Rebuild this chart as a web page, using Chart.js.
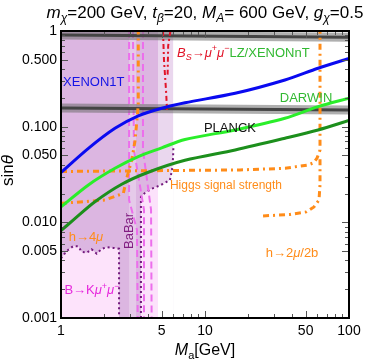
<!DOCTYPE html>
<html>
<head>
<meta charset="utf-8">
<script src="https://cdn.jsdelivr.net/npm/chart.js@4.4.0/dist/chart.umd.min.js"></script>
<style>
  html, body { margin: 0; padding: 0; background: #fff; }
  #wrap { width: 374px; height: 360px; }
</style>
</head>
<body>
<div id="wrap"><canvas id="chart" width="374" height="360"></canvas></div>
<script>
// axes
const maTicks = [1, 5, 10, 50, 100];
const sinTicks = [0.001, 0.005, 0.01, 0.05, 0.1, 0.5, 1];
const sinTickLabels = ["0.001", "0.005", "0.010", "0.050", "0.100", "0.500", "1"];

// direct detection curves
const xenon1tMa = [1, 1.55, 2.37, 3.44, 5.0, 7.26, 16.2, 35.9, 61, 100];
const xenon1tSin = [0.0332, 0.0594, 0.0962, 0.130, 0.156, 0.178, 0.2234, 0.3077, 0.408, 0.516];
const lzMa = [1, 1.55, 2.37, 3.44, 5.0, 7.26, 16.2, 35.9, 61, 100];
const lzSin = [0.0145, 0.0246, 0.0367, 0.0486, 0.060, 0.0735, 0.0924, 0.1225, 0.162, 0.199];
const darwinMa = [1, 1.22, 1.72, 2.64, 4.04, 7.26, 16.2, 35.9, 61, 100];
const darwinSin = [0.0082, 0.0106, 0.0164, 0.025, 0.0334, 0.0445, 0.0571, 0.0757, 0.0924, 0.116];

// relic density (two branches)
const planckMa = [1, 100];
const planckHigh = [0.91, 0.86];
const planckLow = [0.157, 0.149];

// higgs constraints
const higgsMa = [1, 17.5, 36, 52, 57, 60, 62.9, 62.9];
const higgsSin = [0.034, 0.0353, 0.0367, 0.0398, 0.042, 0.047, 0.057, 1];
const h2mu2bMa = [25.3, 38.9, 50.4, 57.1, 61.9, 62.9, 62.9];
const h2mu2bSin = [0.01166, 0.0121, 0.01285, 0.0145, 0.0171, 0.0246, 0.05];
const h4muMa = [1, 2.02, 2.71, 2.86, 3.1, 3.26, 3.36, 3.44, 3.44];
const h4muSin = [0.0158, 0.0171, 0.0201, 0.0289, 0.0449, 0.0697, 0.113, 0.169, 1];

// Bs -> mu mu
const bsMaA = [5.11, 5.19, 5.36, 5.45];
const bsSinA = [1, 0.498, 0.2416, 0.1494];
const bsMaB = [5.75, 5.55, 5.5];
const bsSinB = [1, 0.7, 0.35];

// BaBar dashed contours
const babarMaA = [2.97, 2.97, 3.37, 3.41];
const babarSinA = [1, 0.0171, 0.00833, 0.001];
const babarMaB = [3.16, 3.21, 3.77, 3.77];
const babarSinB = [1, 0.0571, 0.0135, 0.001];
const babarMaC = [3.71, 3.71, 4.22, 4.26];
const babarSinC = [1, 0.0571, 0.0135, 0.001];

// B -> K mu mu boundary
const bkMa = [1, 1.04, 1.12, 1.22, 1.32, 1.39, 1.51, 1.63, 1.77, 1.92, 2.08, 2.31, 2.53, 2.53];
const bkSin = [0.0042, 0.00456, 0.00515, 0.00566, 0.0056, 0.00494, 0.0048, 0.00523, 0.0047, 0.00529, 0.0055, 0.0054, 0.0053, 0.001];

// excluded region boundary (dotted) and edges of shaded bands
const edgeMa = [3.59, 3.59, 3.83, 4.22, 4.64, 5.11, 5.71, 5.9, 6.0, 6.03];
const edgeSin = [0.001, 0.0184, 0.0203, 0.0223, 0.0236, 0.0252, 0.0277, 0.0353, 0.0471, 0.0614];
const purpleMa = [1, 4.72];
const lavenderMa = [1, 6.03];
const stripMa = [2.97, 3.32];
const pinkMa = [3.59, 3.59, 3.83, 4.22, 4.64, 4.72, 4.72];
const pinkSin = [0.001, 0.0184, 0.0203, 0.0223, 0.0236, 0.0238, 0.001];

const FONT = '"Liberation Sans", Arial, sans-serif';
const ORANGE = "rgb(255,140,25)";

function pts(xs, ys) {
  return xs.map((x, i) => ({ x: x, y: ys[i] }));
}

function line(label, xs, ys, color, width, dash, order, tension) {
  return {
    label: label, data: pts(xs, ys), showLine: true,
    borderColor: color, borderWidth: width, borderDash: dash || [],
    pointRadius: 0, pointHoverRadius: 0, fill: false,
    tension: tension || 0, order: order
  };
}

function area(label, xs, ys, color, order) {
  return {
    label: label, data: pts(xs, ys), showLine: true,
    borderWidth: 0, borderColor: "rgba(0,0,0,0)", backgroundColor: color,
    pointRadius: 0, pointHoverRadius: 0, fill: "start", order: order
  };
}

const datasets = [
  area("lavender", lavenderMa, [1, 1], "#ead7ee", 100),
  area("purple", purpleMa, [1, 1], "#dcb6e1", 99),
  area("strip", stripMa, [1, 1], "rgba(255,255,255,0.28)", 98),
  area("cover", edgeMa, edgeSin, "#ffffff", 97),
  area("pink", pinkMa, pinkSin, "#fce2fb", 96),
  Object.assign(area("BK", bkMa, bkSin, "#fde3fb", 95),
    { borderWidth: 2, borderColor: "rgb(115,25,125)", borderDash: [2, 3] }),
  line("edge", edgeMa, edgeSin, "rgb(115,25,125)", 2, [2, 3], 20),
  line("babarA", babarMaA, babarSinA, "rgb(236,110,236)", 2, [7, 4], 19),
  line("babarB", babarMaB, babarSinB, "rgb(236,110,236)", 2, [7, 4], 18),
  line("babarC", babarMaC, babarSinC, "rgb(236,110,236)", 2, [7, 4], 17),
  line("planckHaloHigh", planckMa, planckHigh, "rgba(110,110,110,0.55)", 9, [], 16),
  line("planckHaloLow", planckMa, planckLow, "rgba(110,110,110,0.55)", 9, [], 15),
  line("planckHigh", planckMa, planckHigh, "#444", 3, [], 14),
  line("planckLow", planckMa, planckLow, "#444", 3, [], 13),
  line("higgs", higgsMa, higgsSin, ORANGE, 3, [6, 4, 2, 4], 10),
  line("h2mu2b", h2mu2bMa, h2mu2bSin, ORANGE, 3, [6, 4, 2, 4], 9),
  line("h4mu", h4muMa, h4muSin, ORANGE, 3, [6, 4, 2, 4], 8),
  line("bsA", bsMaA, bsSinA, "rgb(225,20,40)", 2, [5, 3, 2, 3], 7),
  line("bsB", bsMaB, bsSinB, "rgb(225,20,40)", 2, [5, 3, 2, 3], 6),
  line("DARWIN", darwinMa, darwinSin, "#1c8f1c", 3, [], 3, 0.3),
  line("LZ", lzMa, lzSin, "#2aee2a", 3, [], 2, 0.3),
  line("XENON1T", xenon1tMa, xenon1tSin, "#0a0af0", 3, [], 1, 0.3)
];

// text placed in data coordinates
const notes = [
  { x: 1.69, y: 0.30, align: "center", color: "#1414e6", parts: [{ t: "XENON1T" }] },
  { x: 6.39, y: 0.60, align: "left", color: "rgb(225,20,40)", parts: [
    { t: "B", i: 1 }, { t: "S", i: 1, sub: 1 }, { t: "\u2192" }, { t: "\u03bc", i: 1 }, { t: "+", sup: 1 },
    { t: "\u03bc", i: 1 }, { t: "\u2212", sup: 1 }, { t: "LZ/XENONnT", c: "rgb(50,185,50)" }] },
  { x: 50.3, y: 0.20, align: "center", color: "rgb(50,185,50)", parts: [{ t: "DARWIN" }] },
  { x: 14.9, y: 0.0993, align: "center", color: "#111", parts: [{ t: "PLANCK" }] },
  { x: 5.71, y: 0.0246, align: "left", size: 12, color: ORANGE, parts: [{ t: "Higgs signal strength" }] },
  { x: 1.49, y: 0.0071, align: "center", color: ORANGE, parts: [{ t: "h\u21924" }, { t: "\u03bc", i: 1 }] },
  { x: 40.2, y: 0.0049, align: "center", color: ORANGE, parts: [{ t: "h\u21922" }, { t: "\u03bc", i: 1 }, { t: "/2b" }] },
  { x: 1.64, y: 0.00197, align: "center", color: "rgb(230,40,220)", parts: [
    { t: "B\u2192K" }, { t: "\u03bc", i: 1 }, { t: "+", sup: 1 }, { t: "\u03bc", i: 1 }, { t: "\u2212", sup: 1 }] },
  { x: 2.94, y: 0.00813, align: "center", rotate: true, color: "rgb(130,30,130)", parts: [{ t: "BaBar" }] }
];

function drawParts(ctx, parts, x, y, size, align, color) {
  const fontFor = p => (p.i ? "italic " : "") + ((p.sub || p.sup) ? Math.round(size * 0.7) : size) + "px " + FONT;
  let w = 0;
  const widths = parts.map(p => { ctx.font = fontFor(p); const pw = ctx.measureText(p.t).width; w += pw; return pw; });
  let cx = align === "center" ? x - w / 2 : x;
  ctx.textAlign = "left";
  ctx.textBaseline = "alphabetic";
  parts.forEach((p, k) => {
    ctx.font = fontFor(p);
    ctx.fillStyle = p.c || color;
    const dy = p.sub ? size * 0.25 : (p.sup ? -size * 0.42 : 0);
    ctx.fillText(p.t, cx, y + dy);
    cx += widths[k];
  });
}

const textPlugin = {
  id: "texts",
  afterDatasetsDraw(chart) {
    const ctx = chart.ctx;
    const xs = chart.scales.x, ys = chart.scales.y;
    ctx.save();
    notes.forEach(n => {
      const px = xs.getPixelForValue(n.x), py = ys.getPixelForValue(n.y);
      const size = n.size || 13;
      if (n.rotate) {
        ctx.save();
        ctx.translate(px, py);
        ctx.rotate(-Math.PI / 2);
        drawParts(ctx, n.parts, 0, size * 0.35, size, "center", n.color);
        ctx.restore();
      } else {
        drawParts(ctx, n.parts, px, py + size * 0.35, size, n.align, n.color);
      }
    });
    ctx.restore();
  },
  afterDraw(chart) {
    const ctx = chart.ctx;
    const a = chart.chartArea;
    const xs = chart.scales.x, ys = chart.scales.y;
    ctx.save();
    // inward frame ticks on all sides
    ctx.strokeStyle = "#555";
    ctx.lineWidth = 1;
    for (let d = 1; d < 100; d *= 10) {
      for (let k = 1; k <= 10; k++) {
        const v = k * d;
        if (v > 100) continue;
        const len = maTicks.includes(v) ? 7 : 4;
        const p = Math.round(xs.getPixelForValue(v)) + 0.5;
        ctx.beginPath();
        ctx.moveTo(p, a.bottom); ctx.lineTo(p, a.bottom - len);
        ctx.moveTo(p, a.top); ctx.lineTo(p, a.top + len);
        ctx.stroke();
      }
    }
    for (let d = 0.001; d < 1; d *= 10) {
      for (let k = 1; k <= 10; k++) {
        const v = k * d;
        const len = sinTicks.some(t => Math.abs(t - v) < 1e-9) ? 7 : 4;
        const p = Math.round(ys.getPixelForValue(v)) + 0.5;
        ctx.beginPath();
        ctx.moveTo(a.left, p); ctx.lineTo(a.left + len, p);
        ctx.moveTo(a.right, p); ctx.lineTo(a.right - len, p);
        ctx.stroke();
      }
    }
    ctx.strokeStyle = "#000";
    ctx.lineWidth = 2;
    ctx.strokeRect(a.left, a.top, a.right - a.left, a.bottom - a.top);

    // title and axis titles
    drawParts(ctx, [
      { t: "m", i: 1 }, { t: "\u03c7", i: 1, sub: 1 }, { t: "=200 GeV, " },
      { t: "t", i: 1 }, { t: "\u03b2", i: 1, sub: 1 }, { t: "=20, " },
      { t: "M", i: 1 }, { t: "A", i: 1, sub: 1 }, { t: "= 600 GeV, " },
      { t: "g", i: 1 }, { t: "\u03c7", i: 1, sub: 1 }, { t: "=0.5" }
    ], (a.left + a.right) / 2, 18, 17, "center", "#000");
    drawParts(ctx, [{ t: "M", i: 1 }, { t: "a", sub: 1 }, { t: "[GeV]" }],
      (a.left + a.right) / 2, 355, 16, "center", "#000");
    ctx.save();
    ctx.translate(13, (a.top + a.bottom) / 2 - 4);
    ctx.rotate(-Math.PI / 2);
    drawParts(ctx, [{ t: "sin" }, { t: "\u03b8", i: 1 }], 0, 0, 17, "center", "#000");
    ctx.restore();
    ctx.restore();
  }
};

new Chart(document.getElementById("chart"), {
  type: "scatter",
  data: { datasets: datasets },
  options: {
    responsive: false,
    animation: false,
    layout: { padding: { left: 0, right: 25, top: 31, bottom: 0 } },
    plugins: { legend: { display: false }, tooltip: { enabled: false } },
    scales: {
      x: {
        type: "logarithmic", min: 1, max: 100,
        grid: { display: false, drawTicks: false }, border: { display: false },
        ticks: { color: "#000", font: { size: 14, family: FONT }, padding: 5, maxRotation: 0, autoSkip: false,
          callback: (v, i) => String(maTicks[i]) },
        afterBuildTicks: s => { s.ticks = maTicks.map(v => ({ value: v })); },
        afterFit: s => { s.height = 42; }
      },
      y: {
        type: "logarithmic", min: 0.001, max: 1,
        grid: { display: false, drawTicks: false }, border: { display: false },
        ticks: { color: "#000", font: { size: 14, family: FONT }, padding: 4, autoSkip: false,
          callback: (v, i) => sinTickLabels[i] },
        afterBuildTicks: s => { s.ticks = sinTicks.map(v => ({ value: v })); },
        afterFit: s => { s.width = 61; }
      }
    }
  },
  plugins: [textPlugin]
});
</script>
</body>
</html>
